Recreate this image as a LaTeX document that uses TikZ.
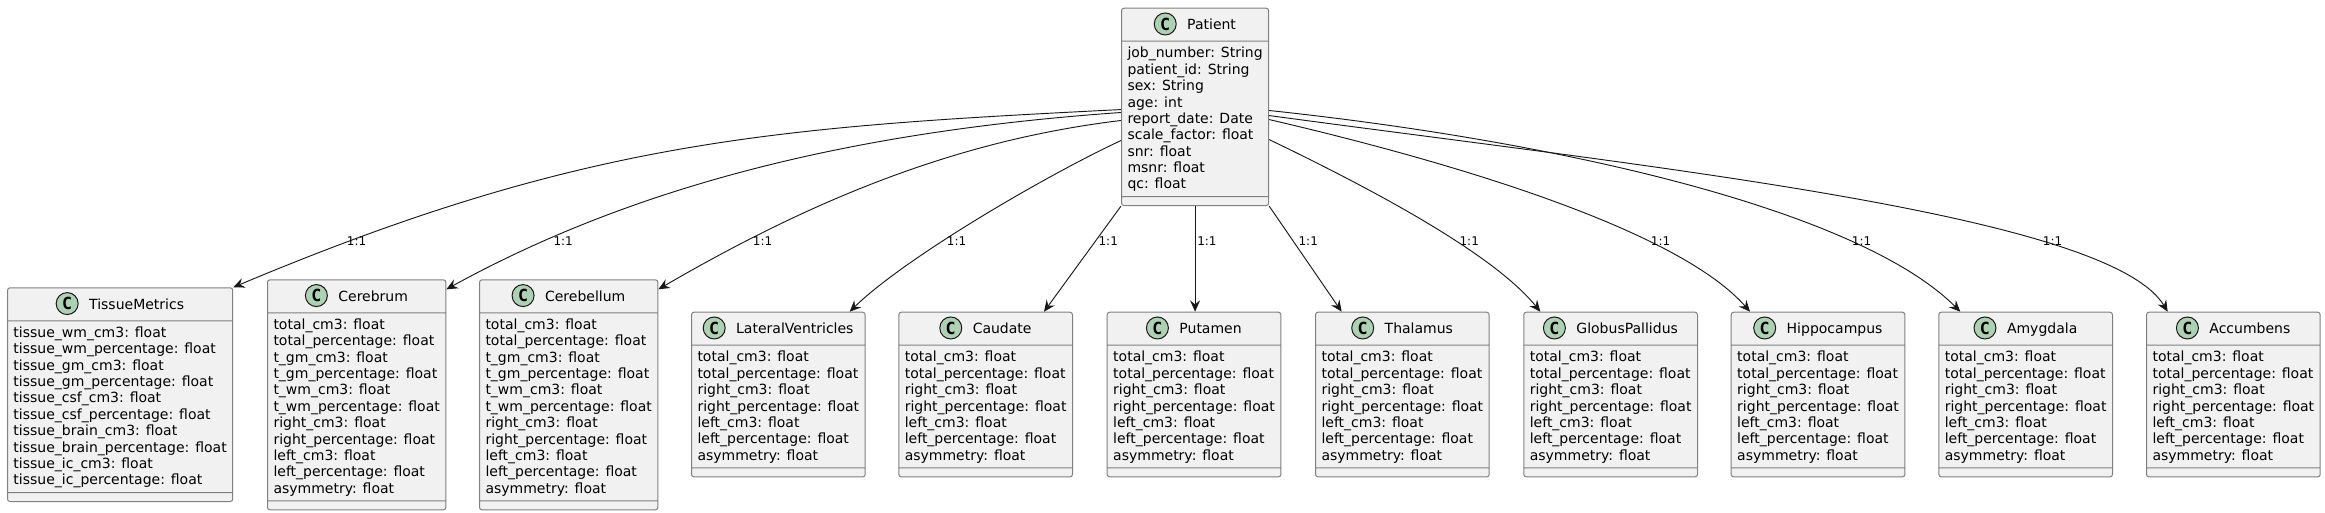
\documentclass[tikz,border=0pt]{standalone}
\usepackage{fontspec}
\setmainfont{DejaVu Sans}
\newfontfamily\iconfont{DejaVu Sans Mono}
\usetikzlibrary{shapes.multipart,arrows.meta}

\definecolor{boxfill}{HTML}{F1F1F1}
\definecolor{boxline}{HTML}{808080}
\definecolor{iconfill}{HTML}{ADD1B2}
\definecolor{edgeline}{HTML}{181818}

\newcommand{\clshead}{\rule[-8.25pt]{0pt}{24pt}}
\newcommand{\clsfirst}{\rule{0pt}{12.2pt}}
\newcommand{\clslast}{\rule[-5.5pt]{0pt}{5.5pt}}
\newcommand{\clsfoot}{\rule{0pt}{6pt}}

\tikzset{
  classbox/.style={rectangle split, rectangle split parts=3, draw=boxline, fill=boxfill,
    line width=0.75pt, rounded corners=1.9pt, inner xsep=4.5pt, inner ysep=0pt,
    align=left, anchor=north west, font=\fontsize{10.5pt}{12.26pt}\selectfont},
  classicon/.style={circle, draw=edgeline, fill=iconfill, line width=0.75pt,
    minimum size=16.5pt, inner sep=0pt, font=\iconfont\bfseries\fontsize{12.5pt}{12.5pt}\selectfont},
  rel/.style={draw=edgeline, line width=0.7pt, -{Stealth[length=8.5pt,width=7.5pt,inset=3pt]}},
  mult/.style={anchor=base west, inner sep=0pt, font=\fontsize{9pt}{10pt}\selectfont},
}

\begin{document}
\begin{tikzpicture}[x=0.75pt,y=-0.75pt]
   \useasboundingbox (0,0) rectangle (2325,512);
   % classes
   \node[classbox] (patient) at (1121,7.7) {\clshead\hspace*{24.75pt}Patient
     \nodepart{second}\clsfirst job\_number: String\\ patient\_id: String\\ sex: String\\ age: int\\
     report\_date: Date\\ scale\_factor: float\\ snr: float\\ msnr: float\\ qc: float\clslast
     \nodepart{third}\clsfoot};
   \node[classbox] (tissue) at (7,287.3) {\clshead\hspace*{24.75pt}TissueMetrics
     \nodepart{second}\clsfirst tissue\_wm\_cm3: float\\ tissue\_wm\_percentage: float\\
     tissue\_gm\_cm3: float\\ tissue\_gm\_percentage: float\\ tissue\_csf\_cm3: float\\
     tissue\_csf\_percentage: float\\ tissue\_brain\_cm3: float\\ tissue\_brain\_percentage: float\\
     tissue\_ic\_cm3: float\\ tissue\_ic\_percentage: float\clslast
     \nodepart{third}\clsfoot};
   \node[classbox] (cerebrum) at (267,279.3) {\clshead\hspace*{24.75pt}Cerebrum
     \nodepart{second}\clsfirst total\_cm3: float\\ total\_percentage: float\\ t\_gm\_cm3: float\\
     t\_gm\_percentage: float\\ t\_wm\_cm3: float\\ t\_wm\_percentage: float\\ right\_cm3: float\\
     right\_percentage: float\\ left\_cm3: float\\ left\_percentage: float\\ asymmetry: float\clslast
     \nodepart{third}\clsfoot};
   \node[classbox] (cerebellum) at (479,279.3) {\clshead\hspace*{24.75pt}Cerebellum
     \nodepart{second}\clsfirst total\_cm3: float\\ total\_percentage: float\\ t\_gm\_cm3: float\\
     t\_gm\_percentage: float\\ t\_wm\_cm3: float\\ t\_wm\_percentage: float\\ right\_cm3: float\\
     right\_percentage: float\\ left\_cm3: float\\ left\_percentage: float\\ asymmetry: float\clslast
     \nodepart{third}\clsfoot};
   \node[classbox] (ventricles) at (691,311.7) {\clshead\hspace*{24.75pt}LateralVentricles
     \nodepart{second}\clsfirst total\_cm3: float\\ total\_percentage: float\\ right\_cm3: float\\
     right\_percentage: float\\ left\_cm3: float\\ left\_percentage: float\\ asymmetry: float\clslast
     \nodepart{third}\clsfoot};
   \node[classbox] (caudate) at (898.3,311.7) {\clshead\hspace*{24.75pt}Caudate
     \nodepart{second}\clsfirst total\_cm3: float\\ total\_percentage: float\\ right\_cm3: float\\
     right\_percentage: float\\ left\_cm3: float\\ left\_percentage: float\\ asymmetry: float\clslast
     \nodepart{third}\clsfoot};
   \node[classbox] (putamen) at (1106.7,311.7) {\clshead\hspace*{24.75pt}Putamen
     \nodepart{second}\clsfirst total\_cm3: float\\ total\_percentage: float\\ right\_cm3: float\\
     right\_percentage: float\\ left\_cm3: float\\ left\_percentage: float\\ asymmetry: float\clslast
     \nodepart{third}\clsfoot};
   \node[classbox] (thalamus) at (1315,311.7) {\clshead\hspace*{24.75pt}Thalamus
     \nodepart{second}\clsfirst total\_cm3: float\\ total\_percentage: float\\ right\_cm3: float\\
     right\_percentage: float\\ left\_cm3: float\\ left\_percentage: float\\ asymmetry: float\clslast
     \nodepart{third}\clsfoot};
   \node[classbox] (pallidus) at (1523.3,311.7) {\clshead\hspace*{24.75pt}GlobusPallidus
     \nodepart{second}\clsfirst total\_cm3: float\\ total\_percentage: float\\ right\_cm3: float\\
     right\_percentage: float\\ left\_cm3: float\\ left\_percentage: float\\ asymmetry: float\clslast
     \nodepart{third}\clsfoot};
   \node[classbox] (hippocampus) at (1730.7,311.7) {\clshead\hspace*{24.75pt}Hippocampus
     \nodepart{second}\clsfirst total\_cm3: float\\ total\_percentage: float\\ right\_cm3: float\\
     right\_percentage: float\\ left\_cm3: float\\ left\_percentage: float\\ asymmetry: float\clslast
     \nodepart{third}\clsfoot};
   \node[classbox] (amygdala) at (1938.3,311.7) {\clshead\hspace*{24.75pt}Amygdala
     \nodepart{second}\clsfirst total\_cm3: float\\ total\_percentage: float\\ right\_cm3: float\\
     right\_percentage: float\\ left\_cm3: float\\ left\_percentage: float\\ asymmetry: float\clslast
     \nodepart{third}\clsfoot};
   \node[classbox] (accumbens) at (2146,311.7) {\clshead\hspace*{24.75pt}Accumbens
     \nodepart{second}\clsfirst total\_cm3: float\\ total\_percentage: float\\ right\_cm3: float\\
     right\_percentage: float\\ left\_cm3: float\\ left\_percentage: float\\ asymmetry: float\clslast
     \nodepart{third}\clsfoot};
   % class icons
   \node[classicon] (patient-c) at ([xshift=8.25pt,yshift=4.3pt]patient.text) {C};
   \node[classicon] (tissue-c) at ([xshift=8.25pt,yshift=4.3pt]tissue.text) {C};
   \node[classicon] (cerebrum-c) at ([xshift=8.25pt,yshift=4.3pt]cerebrum.text) {C};
   \node[classicon] (cerebellum-c) at ([xshift=8.25pt,yshift=4.3pt]cerebellum.text) {C};
   \node[classicon] (ventricles-c) at ([xshift=8.25pt,yshift=4.3pt]ventricles.text) {C};
   \node[classicon] (caudate-c) at ([xshift=8.25pt,yshift=4.3pt]caudate.text) {C};
   \node[classicon] (putamen-c) at ([xshift=8.25pt,yshift=4.3pt]putamen.text) {C};
   \node[classicon] (thalamus-c) at ([xshift=8.25pt,yshift=4.3pt]thalamus.text) {C};
   \node[classicon] (pallidus-c) at ([xshift=8.25pt,yshift=4.3pt]pallidus.text) {C};
   \node[classicon] (hippocampus-c) at ([xshift=8.25pt,yshift=4.3pt]hippocampus.text) {C};
   \node[classicon] (amygdala-c) at ([xshift=8.25pt,yshift=4.3pt]amygdala.text) {C};
   \node[classicon] (accumbens-c) at ([xshift=8.25pt,yshift=4.3pt]accumbens.text) {C};
   % relations
   \draw[rel] ([yshift=-2pt]patient.west) .. controls +(-350,17.5) and +(350,-147) .. (tissue.north east);
   \draw[rel] ([yshift=-4.2pt]patient.west) .. controls +(-250,17.5) and +(200,-110) .. ([yshift=-7.5pt]cerebrum.north east);
   \draw[rel] ([yshift=-10.2pt]patient.west) .. controls +(-150,18) and +(170,-99) .. ([yshift=-7.5pt]cerebellum.north east);
   \draw[rel] ([yshift=-25.2pt]patient.west) .. controls +(-81,38) and +(53,-52) .. ([xshift=-12pt]ventricles.north east);
   \draw[rel] (patient.south west) -- ([xshift=-21.75pt]caudate.north east);
   \draw[rel] (patient.south) -- (patient.south |- putamen.north);
   \draw[rel] (patient.south east) -- ([xshift=20pt]thalamus.north west);
   \draw[rel] ([yshift=-24.5pt]patient.east) .. controls +(85,41) and +(-50,-62) .. ([xshift=12.75pt]pallidus.north west);
   \draw[rel] ([yshift=-9.5pt]patient.east) .. controls +(185,43) and +(-72,-82) .. ([xshift=14.5pt]hippocampus.north west);
   \draw[rel] ([yshift=-2.7pt]patient.east) .. controls +(300,32) and +(-100,-100) .. ([xshift=16.5pt]amygdala.north west);
   \draw[rel] ([yshift=-6.5pt]patient.east) .. controls +(385,52) and +(-58,-97) .. ([xshift=16.25pt]accumbens.north west);
   % multiplicities
   \node[mult] (m-tissue) at (346.7,245) {1:1};
   \node[mult] (m-cerebrum) at (553.3,245) {1:1};
   \node[mult] (m-cerebellum) at (752.7,245) {1:1};
   \node[mult] (m-ventricles) at (946.7,245) {1:1};
   \node[mult] (m-caudate) at (1098.3,245) {1:1};
   \node[mult] (m-putamen) at (1197,245) {1:1};
   \node[mult] (m-thalamus) at (1298.3,245) {1:1};
   \node[mult] (m-pallidus) at (1459.3,245) {1:1};
   \node[mult] (m-hippocampus) at (1650.7,245) {1:1};
   \node[mult] (m-amygdala) at (1851.7,245) {1:1};
   \node[mult] (m-accumbens) at (2042.7,245) {1:1};
\end{tikzpicture}
\end{document}
